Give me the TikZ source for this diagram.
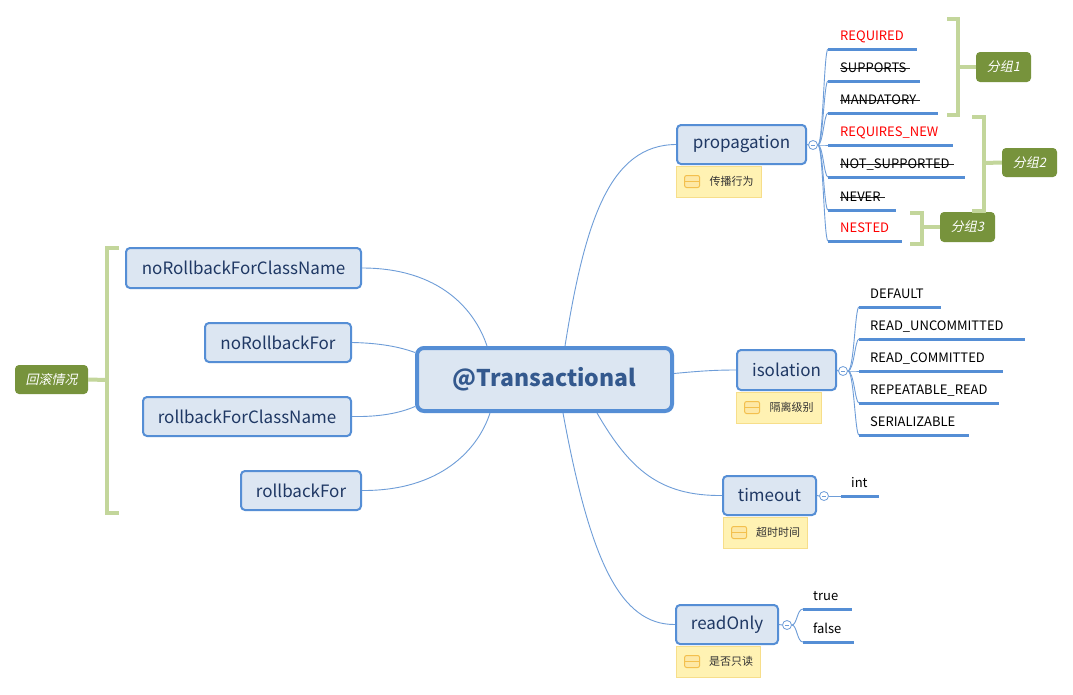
\documentclass[tikz,border=0pt]{standalone}
\usepackage{fontspec}
\setmainfont{Noto Sans CJK SC}
\newfontfamily\slantcjk[FakeSlant=0.2]{Noto Sans CJK SC}
\usetikzlibrary{calc}
\definecolor{boxfill}{HTML}{DCE6F2}
\definecolor{boxline}{HTML}{558ED5}
\definecolor{boxtext}{HTML}{1F3864}
\definecolor{centtext}{HTML}{34598E}
\definecolor{conn}{HTML}{6E9DD8}
\definecolor{ulc}{HTML}{558ED5}
\definecolor{notefill}{HTML}{FFF2B3}
\definecolor{noteline}{HTML}{F7DE8A}
\definecolor{iconline}{HTML}{F3C04E}
\definecolor{iconfill}{HTML}{FDE8A6}
\definecolor{grpfill}{HTML}{77933C}
\definecolor{brk}{HTML}{C3D69B}
\newcommand\strk[1]{\setbox0=\hbox{#1}\rlap{\color{black!85}\rule[0.33em]{\dimexpr\wd0+4pt\relax}{0.8pt}}\box0}
\tikzset{
  topic/.style={draw=boxline, line width=2pt, fill=boxfill, rounded corners=4pt, text=boxtext, font=\fontsize{17}{20}\selectfont, inner sep=0pt},
  central/.style={draw=boxline, line width=4pt, fill=boxfill, rounded corners=7pt, text=centtext, font=\fontsize{23}{27}\selectfont\bfseries, inner sep=0pt},
  note/.style={draw=noteline, line width=0.8pt, fill=notefill, text=black!80, font=\fontsize{11}{13}\selectfont, inner sep=0pt},
  leaf/.style={anchor=south west, inner xsep=0pt, inner ysep=3.5pt, align=left, font=\fontsize{13}{15}\selectfont, execute at end node=\strut},
  ul/.style={draw=ulc, line width=3pt},
  br/.style={draw=conn, line width=0.9pt},
  conline/.style={draw=conn, line width=0.9pt},
  fold/.style={circle, draw=conn, fill=white, line width=0.8pt, minimum size=9pt, inner sep=0pt, path picture={\draw[conn, line width=0.7pt] ([xshift=-2.2pt]path picture bounding box.center) -- ([xshift=2.2pt]path picture bounding box.center);}},
  grp/.style={fill=grpfill, rounded corners=4pt, text=white, font=\slantcjk\fontsize{13}{15}\selectfont, inner sep=0pt},
  bracket/.style={draw=brk, line width=4pt},
  icon/.style={draw=iconline, fill=iconfill, line width=1pt, rounded corners=2pt},
}
\newcommand\noteicon[1]{\draw[icon] ($(#1.west)+(9,-6)$) rectangle ($(#1.west)+(24,6)$); \draw[iconline, line width=1pt] ($(#1.west)+(9,0)$) -- ($(#1.west)+(24,0)$);}
\begin{document}
\begin{tikzpicture}[x=1pt,y=-1pt]
\useasboundingbox[fill=white] (0,0) rectangle (1073,694);

% central
\node[central, minimum width=255pt, minimum height=63pt] (c) at (544.5,379.5) {@Transactional};

% topics
\node[topic, minimum width=129pt, minimum height=39pt] (prop) at (741.5,144.5) {propagation};
\node[topic, minimum width=99pt, minimum height=40pt] (iso) at (786.5,370) {isolation};
\node[topic, minimum width=93pt, minimum height=39pt] (tmo) at (769.5,495.5) {timeout};
\node[topic, minimum width=102pt, minimum height=39pt] (ro) at (727,624.5) {readOnly};
\node[topic, minimum width=235pt, minimum height=40pt] (nrfcn) at (243.5,268) {noRollbackForClassName};
\node[topic, minimum width=146pt, minimum height=39pt] (nrf) at (278,342.5) {noRollbackFor};
\node[topic, minimum width=208pt, minimum height=39pt] (rfcn) at (247,416.5) {rollbackForClassName};
\node[topic, minimum width=120pt, minimum height=39pt] (rf) at (301,490.5) {rollbackFor};

% notes
\node[note, minimum width=85pt, minimum height=31pt] (pn) at (718.5,181.5) {\hspace*{26pt}传播行为};
\node[note, minimum width=85pt, minimum height=31pt] (in) at (778.5,407.5) {\hspace*{26pt}隔离级别};
\node[note, minimum width=84pt, minimum height=31pt] (tn) at (765,532.5) {\hspace*{26pt}超时时间};
\node[note, minimum width=84pt, minimum height=31pt] (rn) at (718,661.5) {\hspace*{26pt}是否只读};
\noteicon{pn}\noteicon{in}\noteicon{tn}\noteicon{rn}

% main connectors
\draw[conline] (nrfcn.east) .. controls (440,268) and (475,310) .. ($(c.north west)+(72,0)$);
\draw[conline] (nrf.east) .. controls (380,343) and (400,347) .. ($(c.west)+(0,-27)$);
\draw[conline] (rfcn.east) .. controls (380,417) and (400,413) .. ($(c.west)+(0,27)$);
\draw[conline] (rf.east) .. controls (440,491) and (478,450) .. ($(c.south west)+(75,0)$);
\draw[conline] ($(c.north west)+(150,0)$) .. controls (585,220) and (610,145) .. (prop.west);
\draw[conline] ($(c.east)+(0,-6)$) .. controls (700,371) and (715,370) .. (iso.west);
\draw[conline] ($(c.south west)+(182,0)$) .. controls (630,470) and (660,496) .. (tmo.west);
\draw[conline] ($(c.south west)+(148,0)$) .. controls (590,560) and (620,625) .. (ro.west);

% fold circles
\node[fold] (pc) at (813,145) {};
\node[fold] (ic) at (843,371) {};
\node[fold] (tc) at (824,496) {};
\node[fold] (rc) at (787,625) {};
\draw[conline] (prop.east) -- (pc.west);
\draw[conline] (iso.east) -- (ic.west);
\draw[conline] (tmo.east) -- (tc.west);
\draw[conline] (ro.east) -- (rc.west);

% propagation leaves
\node[leaf, text width=89pt, text=red] (p1) at (828,49) {\hspace*{12pt}REQUIRED};
\node[leaf, text width=92pt] (p2) at (828,81) {\hspace*{12pt}\strk{SUPPORTS}};
\node[leaf, text width=110pt] (p3) at (828,113) {\hspace*{12pt}\strk{MANDATORY}};
\node[leaf, text width=125pt, text=red] (p4) at (828,145) {\hspace*{12pt}REQUIRES\_NEW};
\node[leaf, text width=137pt] (p5) at (828,177) {\hspace*{12pt}\strk{NOT\_SUPPORTED}};
\node[leaf, text width=68pt] (p6) at (828,210) {\hspace*{12pt}\strk{NEVER}};
\node[leaf, text width=74pt, text=red] (p7) at (828,241) {\hspace*{12pt}NESTED};
\foreach \n in {p1,p2,p3,p4,p5,p6,p7}{
  \draw[ul] (\n.south west) -- (\n.south east);
  \draw[br] (pc.east) .. controls ($(\n.south west |- pc.east)+(-5,0)$) and ($(\n.south west)+(-4,0)$) .. (\n.south west);
}

% isolation leaves
\node[leaf, text width=82pt] (i1) at (859,307) {\hspace*{11pt}DEFAULT};
\node[leaf, text width=166pt] (i2) at (859,339) {\hspace*{11pt}READ\_UNCOMMITTED};
\node[leaf, text width=144pt] (i3) at (859,371) {\hspace*{11pt}READ\_COMMITTED};
\node[leaf, text width=140pt] (i4) at (859,403) {\hspace*{11pt}REPEATABLE\_READ};
\node[leaf, text width=110pt] (i5) at (859,435) {\hspace*{11pt}SERIALIZABLE};
\foreach \n in {i1,i2,i3,i4,i5}{
  \draw[ul] (\n.south west) -- (\n.south east);
  \draw[br] (ic.east) .. controls ($(\n.south west |- ic.east)+(-5,0)$) and ($(\n.south west)+(-4,0)$) .. (\n.south west);
}

% timeout leaf
\node[leaf, text width=38pt] (t1) at (841,496) {\hspace*{10pt}int};
\draw[ul] (t1.south west) -- (t1.south east);
\draw[br] (tc.east) -- (t1.south west);

% readOnly leaves
\node[leaf, text width=49pt] (r1) at (803,609) {\hspace*{10pt}true};
\node[leaf, text width=51pt] (r2) at (803,642) {\hspace*{10pt}false};
\foreach \n in {r1,r2}{
  \draw[ul] (\n.south west) -- (\n.south east);
  \draw[br] (rc.east) .. controls ($(\n.south west |- rc.east)+(-6,0)$) and ($(\n.south west)+(-6,0)$) .. (\n.south west);
}

% group labels and brackets
\node[grp, minimum width=55pt, minimum height=30pt] (g1) at (1003.5,67) {分组1};
\node[grp, minimum width=55pt, minimum height=29pt] (g2) at (1029.5,162.5) {分组2};
\node[grp, minimum width=55pt, minimum height=30pt] (g3) at (967.5,227) {分组3};
\node[grp, minimum width=73pt, minimum height=29pt] (gl) at (51.5,379.5) {回滚情况};
\draw[bracket] (947,19) -- (958,19) -- (958,115) -- (947,115);
\draw[bracket] (958,67) -- (g1.west);
\draw[bracket] (972,117) -- (984,117) -- (984,211) -- (972,211);
\draw[bracket] (984,163) -- (g2.west);
\draw[bracket] (910,213) -- (922,213) -- (922,244) -- (910,244);
\draw[bracket] (922,227) -- (g3.west);
\draw[bracket] (119,248) -- (107,248) -- (107,513) -- (119,513);
\draw[bracket] (107,380) -- (gl.east);
\end{tikzpicture}
\end{document}
